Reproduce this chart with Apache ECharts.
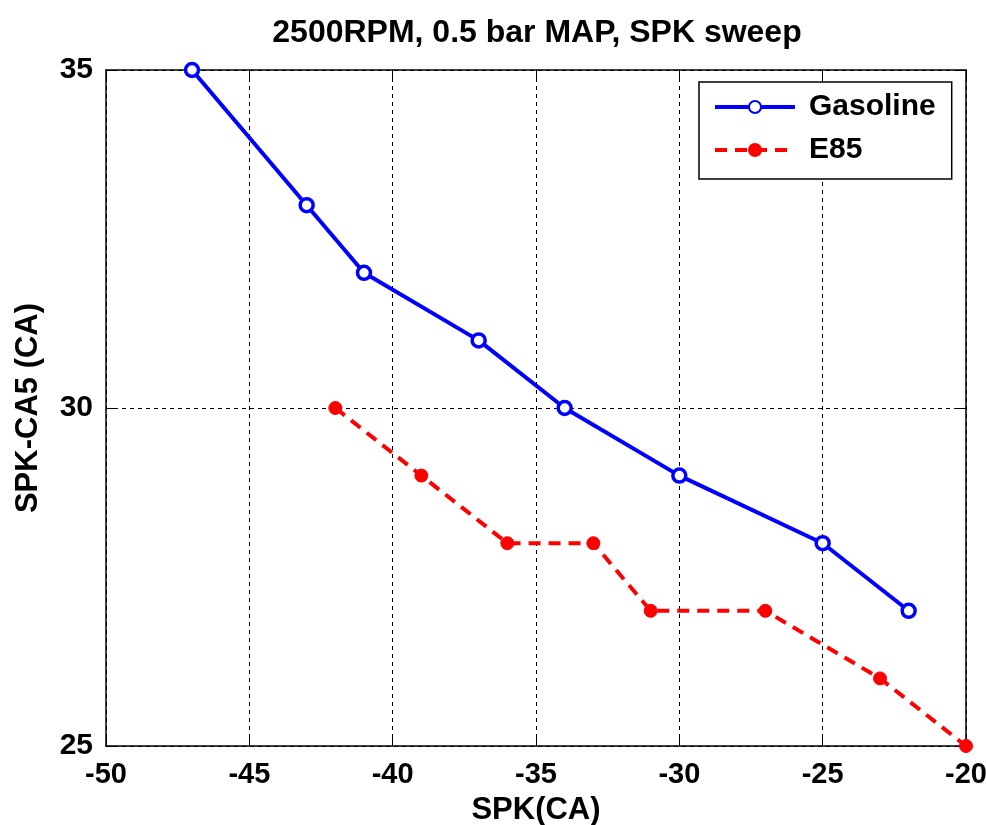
<!DOCTYPE html>
<html><head><meta charset="utf-8">
<script src="https://cdn.jsdelivr.net/npm/echarts@6/dist/echarts.min.js"></script>
<style>html,body{margin:0;padding:0;background:#fff}#c{width:986px;height:825px}</style>
</head><body><div id="c"></div>
<script>
const gasX = [-47, -43, -41, -37, -34, -30, -25, -22];
const gasY = [35, 33, 32, 31, 30, 29, 28, 27];
const e85X = [-42, -39, -36, -33, -31, -27, -23, -20];
const e85Y = [30, 29, 28, 28, 27, 27, 26, 25];
const seriesNames = ['Gasoline', 'E85'];
const titleText = '2500RPM, 0.5 bar MAP, SPK sweep';
const xName = 'SPK(CA)';
const yName = 'SPK-CA5 (CA)';

const font = '"Liberation Sans", Arial, sans-serif';
const txt = (s) => ({ fontFamily: font, fontSize: s, fontWeight: 'bold', color: '#000' });
const axisCommon = {
  axisLine: { show: true, lineStyle: { color: '#000', width: 1.5 } },
  axisTick: { show: true, inside: true, length: 8, lineStyle: { color: '#000', width: 1 } }
};
const chart = echarts.init(document.getElementById('c'));
chart.setOption({
  animation: false,
  backgroundColor: '#fff',
  title: { text: titleText, left: 532, top: 12, textAlign: 'center', textStyle: txt(32) },
  grid: { left: 106, right: 20, top: 70, bottom: 79, containLabel: false, outerBoundsMode: 'none' },
  xAxis: [{
    type: 'value', min: -50, max: -20, interval: 5, position: 'bottom',
    name: xName, nameLocation: 'middle', nameGap: 49, nameTextStyle: txt(31),
    ...axisCommon,
    axisLabel: { ...txt(29), margin: 14 },
    splitLine: { show: true, lineStyle: { color: '#000', type: [4, 4], width: 1 } }
  }, {
    type: 'value', min: -50, max: -20, interval: 5, position: 'top',
    ...axisCommon, axisLabel: { show: false }, splitLine: { show: false }
  }],
  yAxis: [{
    type: 'value', min: 25, max: 35, interval: 5, position: 'left',
    name: yName, nameLocation: 'middle', nameGap: 62, nameRotate: 90, nameTextStyle: txt(31),
    ...axisCommon,
    axisLabel: { ...txt(30), margin: 13 },
    splitLine: { show: true, lineStyle: { color: '#000', type: [4, 4], width: 1 } }
  }, {
    type: 'value', min: 25, max: 35, interval: 5, position: 'right',
    ...axisCommon, axisLabel: { show: false }, splitLine: { show: false }
  }],
  legend: {
    left: 699, top: 82, orient: 'vertical', itemWidth: 80, itemHeight: 15, itemGap: 13,
    padding: [10, 16, 14, 14], borderColor: '#000', borderWidth: 1.5, backgroundColor: '#fff',
    textStyle: { ...txt(30), padding: [0, 0, 0, 9] },
    data: [
      { name: seriesNames[0], lineStyle: { width: 4 } },
      { name: seriesNames[1], lineStyle: { width: 4 } }
    ]
  },
  series: [
    { name: seriesNames[0], type: 'line', data: gasX.map((x, i) => [x, gasY[i]]),
      symbol: 'circle', symbolSize: 13,
      lineStyle: { color: '#0000ff', width: 4 },
      itemStyle: { color: '#fff', borderColor: '#0000ff', borderWidth: 3.5 }, z: 3 },
    { name: seriesNames[1], type: 'line', data: e85X.map((x, i) => [x, e85Y[i]]),
      symbol: 'circle', symbolSize: 13,
      lineStyle: { color: '#ff0000', width: 4, type: [12, 8] },
      itemStyle: { color: '#ff0000', borderColor: '#ff0000', borderWidth: 1 }, z: 3 }
  ]
});
</script></body></html>
